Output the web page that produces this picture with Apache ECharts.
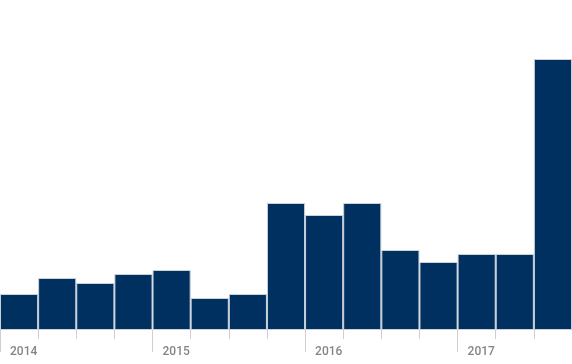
<!DOCTYPE html>
<html>
<head>
<meta charset="utf-8">
<script src="https://cdn.jsdelivr.net/npm/echarts@6/dist/echarts.min.js"></script>
<style>
html,body{margin:0;padding:0;background:#fff;}
#c{width:572px;height:364px;}
</style>
</head>
<body>
<div id="c"></div>
<script>
const categories = ['2014 Q1','2014 Q2','2014 Q3','2014 Q4','2015 Q1','2015 Q2','2015 Q3','2015 Q4','2016 Q1','2016 Q2','2016 Q3','2016 Q4','2017 Q1','2017 Q2','2017 Q3'];
const values = [36, 52, 47, 56, 60, 32, 36, 127, 115, 127, 80, 68, 76, 76, 271];
const yearTickPositions = [0, 4, 8, 12];
const yearLabels = ['2014', '2015', '2016', '2017'];

const chart = echarts.init(document.getElementById('c'), null, {renderer: 'canvas'});
chart.setOption({
  animation: false,
  grid: {left: 0, right: 0, top: 0, bottom: 34},
  xAxis: [
    {
      type: 'category',
      data: categories,
      boundaryGap: true,
      axisLine: {show: false},
      axisTick: {show: true, interval: 0, length: 9, lineStyle: {color: '#cfcfcf', width: 1}},
      axisLabel: {show: false}
    },
    {
      type: 'value',
      min: 0,
      max: categories.length,
      position: 'bottom',
      axisLine: {show: false},
      splitLine: {show: false},
      axisTick: {show: true, length: 22, customValues: yearTickPositions, lineStyle: {color: '#cfcfcf', width: 1}},
      axisLabel: {
        show: true,
        customValues: yearTickPositions,
        formatter: function (v) { return yearLabels[yearTickPositions.indexOf(v)] || ''; },
        align: 'left',
        padding: [0, 0, 0, 10],
        margin: 16,
        color: '#858585',
        fontFamily: 'Roboto',
        fontSize: 12,
        fontWeight: 500
      }
    }
  ],
  yAxis: {
    type: 'value',
    min: 0,
    max: 330,
    show: false
  },
  series: [{
    type: 'bar',
    xAxisIndex: 0,
    data: values,
    barCategoryGap: '0%',
    itemStyle: {color: '#00305f', borderColor: '#c9d1db', borderWidth: 1}
  }]
});
</script>
</body>
</html>
